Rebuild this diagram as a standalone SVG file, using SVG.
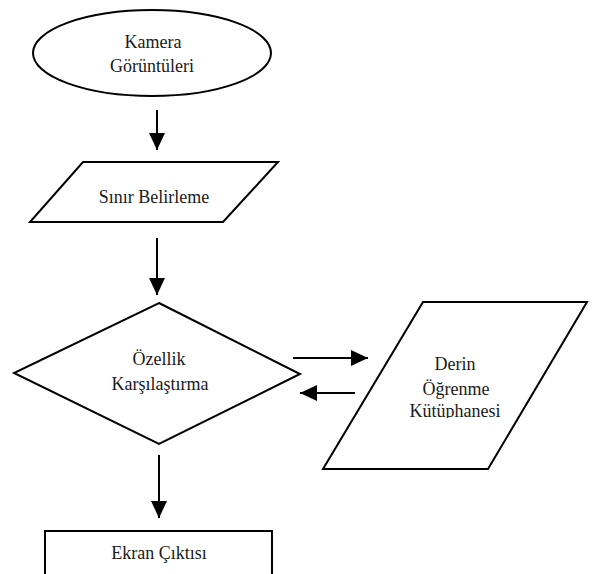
<svg xmlns="http://www.w3.org/2000/svg" width="595" height="574" viewBox="0 0 595 574">
  <style>
    .shape { fill: #ffffff; stroke: #000000; stroke-width: 2; }
    .lbl { font-family: "Liberation Serif", "Times New Roman", serif; font-size: 18px; fill: #1a1a1a; text-anchor: middle; }
    .conn { stroke: #000000; stroke-width: 2; fill: none; marker-end: url(#arrow); }
  </style>
  <defs>
    <marker id="arrow" markerUnits="userSpaceOnUse" markerWidth="18" markerHeight="18" viewBox="0 0 18 18" refX="17" refY="9" orient="auto">
      <path d="M0,1 L17,9 L0,17 Z" fill="#000000"/>
    </marker>
    <clipPath id="clipTop"><rect x="0" y="0" width="595" height="73"/></clipPath>
    <clipPath id="clipLib"><rect x="0" y="0" width="595" height="418"/></clipPath>
  </defs>
  <rect x="0" y="0" width="595" height="574" fill="#ffffff"/>

  <g id="kamera">
    <ellipse class="shape" cx="152" cy="53" rx="119" ry="43"/>
    <text class="lbl" x="153" y="48">Kamera</text>
    <text class="lbl" x="152" y="72" clip-path="url(#clipTop)">Görüntüleri</text>
  </g>

  <g id="sinir">
    <polygon class="shape" points="83,162 278,162 223,222 30,222"/>
    <text class="lbl" x="154" y="203">Sınır Belirleme</text>
  </g>

  <g id="ozellik">
    <polygon class="shape" points="159,303 300,374 159,444 14,373"/>
    <text class="lbl" x="159" y="365">Özellik</text>
    <text class="lbl" x="160" y="390">Karşılaştırma</text>
  </g>

  <g id="derin">
    <polygon class="shape" points="423,302 587,302 488,469 323,469"/>
    <text class="lbl" x="455" y="370">Derin</text>
    <text class="lbl" x="456" y="395">Öğrenme</text>
    <text class="lbl" x="455" y="417" clip-path="url(#clipLib)">Kütüphanesi</text>
  </g>

  <g id="ekran">
    <rect class="shape" x="45" y="531" width="227" height="60"/>
    <text class="lbl" x="159" y="559">Ekran Çıktısı</text>
  </g>

  <g id="connectors">
    <line class="conn" x1="157" y1="110" x2="157" y2="150"/>
    <line class="conn" x1="157" y1="238" x2="157" y2="295"/>
    <line class="conn" x1="159" y1="455" x2="159" y2="518"/>
    <line class="conn" x1="293" y1="358" x2="368" y2="358"/>
    <line class="conn" x1="355" y1="393" x2="300" y2="393"/>
  </g>
</svg>
